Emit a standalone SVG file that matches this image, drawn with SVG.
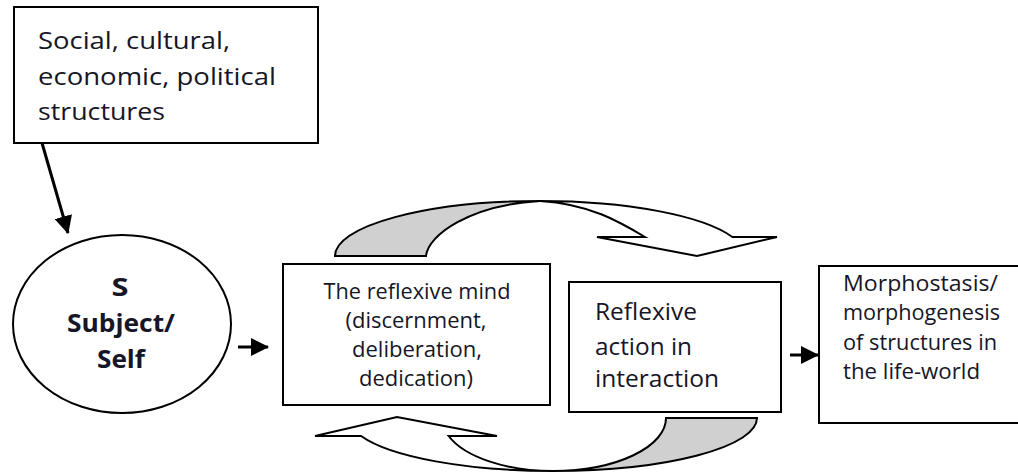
<svg xmlns="http://www.w3.org/2000/svg" width="1018" height="472" viewBox="0 0 1018 472">
<style>
.box{fill:#fff;stroke:#000;stroke-width:2}
.t{font-family:"Open Sans",Lato,sans-serif;fill:#161626}
.l{font-size:24px}
.m{font-size:21px}
.b{font-size:25px;font-weight:bold;text-anchor:middle}
.c{text-anchor:middle}
.con{stroke:#000;stroke-width:3;fill:none}
.sh{stroke:#000;stroke-width:2;stroke-linejoin:miter}
</style>
<defs>
<marker id="ah" markerWidth="18" markerHeight="18" refX="17" refY="9" orient="auto" markerUnits="userSpaceOnUse" viewBox="0 0 18 18">
<path d="M0,0 L18,9 L0,18 Z" fill="#000"/>
</marker>
</defs>
<g id="structures">
<rect class="box" x="14" y="7" width="304" height="136"/>
<text class="t l" x="38" y="49" textLength="192" lengthAdjust="spacingAndGlyphs">Social, cultural,</text>
<text class="t l" x="38" y="85" textLength="238" lengthAdjust="spacingAndGlyphs">economic, political</text>
<text class="t l" x="38" y="120" textLength="127" lengthAdjust="spacingAndGlyphs">structures</text>
</g>
<g id="subject">
<ellipse class="box" cx="122" cy="324" rx="109" ry="89"/>
<text class="t b" x="120" y="296" textLength="17" lengthAdjust="spacingAndGlyphs">S</text>
<text class="t b" x="121" y="332" textLength="108" lengthAdjust="spacingAndGlyphs">Subject/</text>
<text class="t b" x="121" y="368" textLength="48" lengthAdjust="spacingAndGlyphs">Self</text>
</g>
<g id="mind">
<rect class="box" x="283" y="264" width="267" height="141"/>
<text class="t m c" x="417" y="299" textLength="187" lengthAdjust="spacingAndGlyphs">The reflexive mind</text>
<text class="t m c" x="416" y="328" textLength="141" lengthAdjust="spacingAndGlyphs">(discernment,</text>
<text class="t m c" x="417" y="357" textLength="130" lengthAdjust="spacingAndGlyphs">deliberation,</text>
<text class="t m c" x="416" y="386" textLength="114" lengthAdjust="spacingAndGlyphs">dedication)</text>
</g>
<g id="action">
<rect class="box" x="569" y="282" width="212" height="130"/>
<text class="t l" x="595" y="320" textLength="102" lengthAdjust="spacingAndGlyphs">Reflexive</text>
<text class="t l" x="595" y="355" textLength="97" lengthAdjust="spacingAndGlyphs">action in</text>
<text class="t l" x="595" y="387" textLength="124" lengthAdjust="spacingAndGlyphs">interaction</text>
</g>
<g id="morph">
<rect class="box" x="819" y="266" width="210" height="157"/>
<text class="t m" x="843" y="291" textLength="155" lengthAdjust="spacingAndGlyphs">Morphostasis/</text>
<text class="t m" x="843" y="320" textLength="157" lengthAdjust="spacingAndGlyphs">morphogenesis</text>
<text class="t m" x="843" y="350" textLength="154" lengthAdjust="spacingAndGlyphs">of structures in</text>
<text class="t m" x="843" y="379" textLength="137" lengthAdjust="spacingAndGlyphs">the life-world</text>
</g>
<g id="loop-top">
<path class="sh" fill="#d0d0d0" d="M335,256 A205,55 0 0 1 540,201 C470,205 428,235 426,256 Z"/>
<path class="sh" fill="#fff" d="M540,201 A205,55 0 0 1 732.4,237 L777,237 L697,256 L597,237 L645,237 C620,222 590,204 540,201 Z"/>
</g>
<g id="loop-bottom">
<path class="sh" fill="#d0d0d0" d="M553,471 A204,53 0 0 0 757,418 L666,418 A113,53 0 0 1 553,471 Z"/>
<path class="sh" fill="#fff" d="M553,471 A204,53 0 0 1 361.1,436 L315,436 L397,417 L497,436 L448.6,436 A111,53 0 0 0 553,471 Z"/>
</g>
<g id="connectors">
<line class="con" x1="42" y1="143" x2="68" y2="233" marker-end="url(#ah)"/>
<line class="con" x1="238" y1="347" x2="268" y2="347" marker-end="url(#ah)"/>
<line class="con" x1="790" y1="355" x2="818" y2="355" marker-end="url(#ah)"/>
</g>
</svg>
